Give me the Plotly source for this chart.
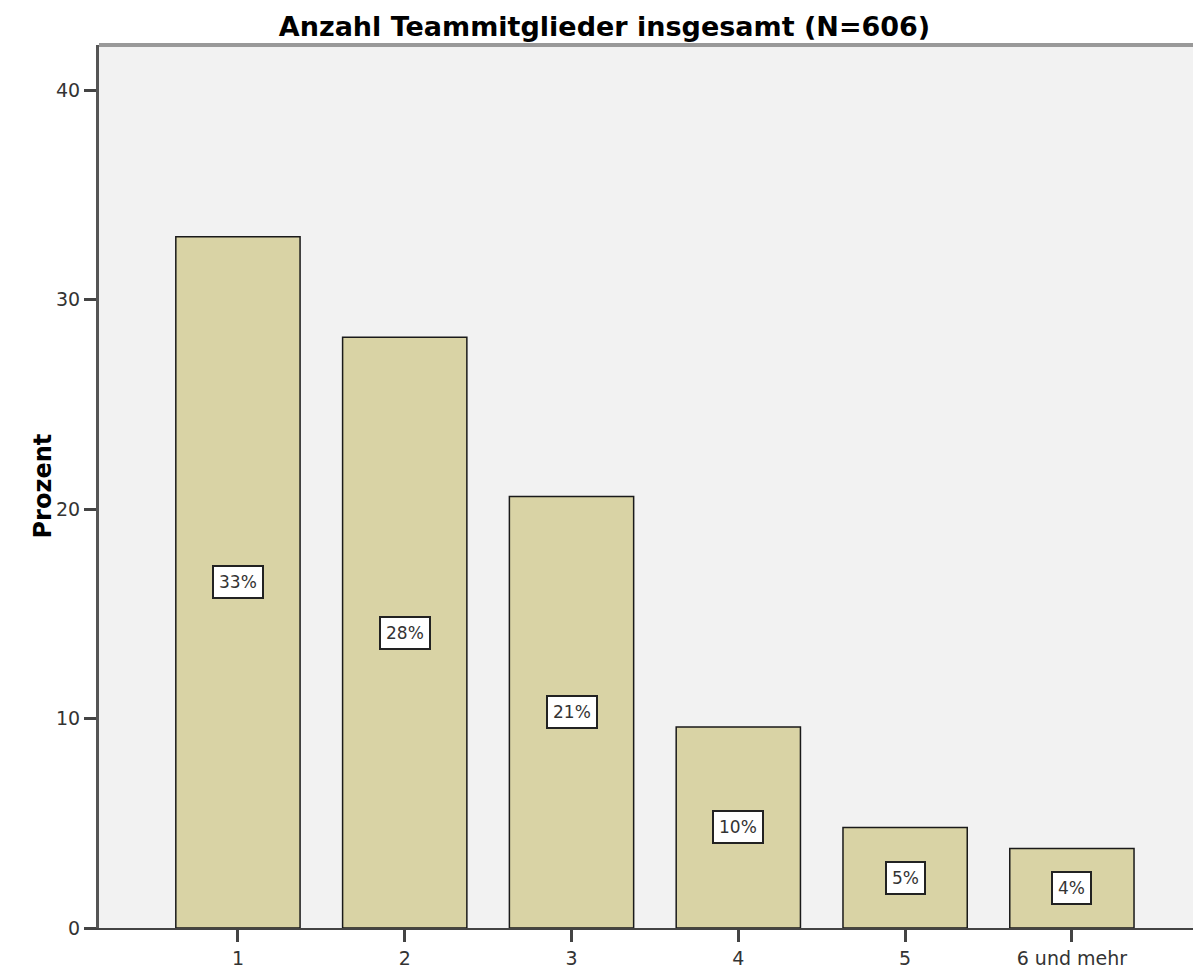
import plotly.graph_objects as go

# Anzahl Teammitglieder insgesamt (N=606)
categories = ["1", "2", "3", "4", "5", "6 und mehr"]
percent = [33.0, 28.2, 20.6, 9.6, 4.8, 3.8]
labels = ["33%", "28%", "21%", "10%", "5%", "4%"]

FONT = "DejaVu Sans"

fig = go.Figure()

fig.add_trace(go.Bar(
    x=categories,
    y=percent,
    width=0.745,
    marker=dict(color="#d9d3a5", line=dict(color="#1a1a1a", width=1.5)),
    hoverinfo="skip",
))

# percentage boxes in the middle of each bar
for idx, (val, lab) in enumerate(zip(percent, labels)):
    fig.add_annotation(
        x=idx, y=val / 2, text=lab, showarrow=False,
        font=dict(family=FONT, size=17, color="#333333"),
        bgcolor="white", bordercolor="#222222", borderwidth=2, borderpad=5,
    )

# y axis title
fig.add_annotation(
    xref="paper", yref="paper", x=0, y=0.5, xshift=-73,
    text="<b>Prozent</b>", textangle=-90, showarrow=False,
    font=dict(family=FONT, size=24, color="black"),
)

fig.update_layout(
    width=1193,
    height=961,
    margin=dict(l=91, r=0, t=37, b=41),
    paper_bgcolor="white",
    plot_bgcolor="#f2f2f2",
    showlegend=False,
    title=dict(
        text="<b>Anzahl Teammitglieder insgesamt (N=606)</b>",
        xref="container", x=0.5, xanchor="center",
        yref="container", y=0.981, yanchor="middle",
        font=dict(family=FONT, size=27, color="black"),
    ),
    xaxis=dict(
        range=[-0.833, 5.774],
        showline=True, linecolor="#444444", linewidth=2,
        ticks="outside", ticklen=12, tickwidth=3, tickcolor="#444444",
        tickfont=dict(family=FONT, size=19, color="#333333"),
        showgrid=False, zeroline=False,
    ),
    yaxis=dict(
        range=[0, 42.15],
        tickvals=[0, 10, 20, 30, 40],
        showline=True, linecolor="#555555", linewidth=3,
        ticks="outside", ticklen=12, tickwidth=3, tickcolor="#444444",
        tickfont=dict(family=FONT, size=19, color="#333333"),
        showgrid=False, zeroline=False,
    ),
    shapes=[dict(type="line", xref="paper", yref="paper", x0=0, x1=1, y0=1, y1=1,
                 line=dict(color="#999999", width=4))],
)

fig.write_html("out.html")
